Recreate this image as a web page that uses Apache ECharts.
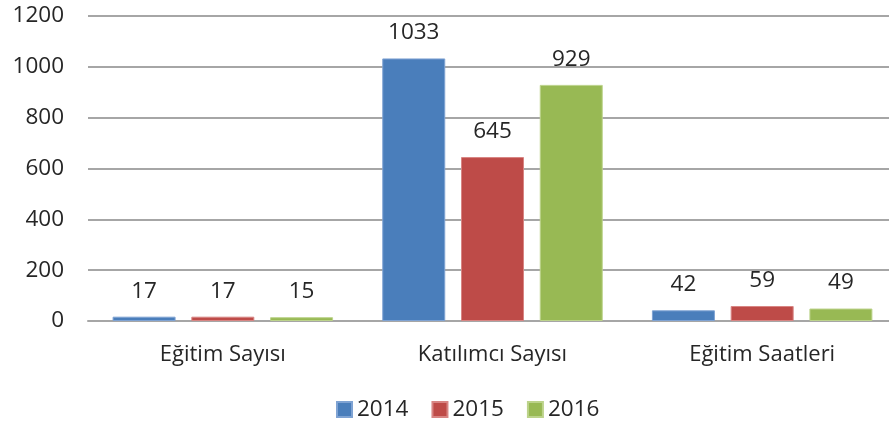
<!DOCTYPE html>
<html>
<head>
<meta charset="utf-8">
<script src="https://cdn.jsdelivr.net/npm/echarts@6/dist/echarts.min.js"></script>
<style>
  html, body { margin: 0; padding: 0; background: #fff; }
  #chart { width: 889px; height: 428px; }
</style>
</head>
<body>
<div id="chart"></div>
<script>
// Training statistics per year
const categories = ['Eğitim Sayısı', 'Katılımcı Sayısı', 'Eğitim Saatleri'];
const years = ['2014', '2015', '2016'];
const values2014 = [17, 1033, 42];
const values2015 = [17, 645, 59];
const values2016 = [15, 929, 49];
const yTicks = { min: 0, max: 1200, interval: 200 };

const colors = ['#4A7EBB', '#BE4B48', '#98B954'];
const borders = ['#7FA3D3', '#D88583', '#BCD38B'];
const font = 'Open Sans, Calibri, sans-serif';
const textColor = '#262626';

const seriesData = [values2014, values2015, values2016];

const chart = echarts.init(document.getElementById('chart'), null, { renderer: 'canvas' });
chart.setOption({
  animation: false,
  backgroundColor: '#ffffff',
  // the plot runs a little past the right edge of the canvas
  grid: {
    left: 88, width: 809, top: 16, bottom: 107,
    containLabel: false, outerBoundsMode: 'none'
  },
  legend: {
    data: years,
    bottom: 2,
    left: 331,
    itemWidth: 15,
    itemHeight: 15,
    itemGap: 23,
    icon: 'rect',
    textStyle: { fontFamily: font, fontSize: 22.5, color: textColor }
  },
  xAxis: {
    type: 'category',
    data: categories,
    axisLine: { show: true, lineStyle: { color: '#A6A6A6', width: 2 } },
    axisTick: { show: false },
    axisLabel: { fontFamily: font, fontSize: 22, color: textColor, margin: 23 }
  },
  yAxis: {
    type: 'value',
    min: yTicks.min,
    max: yTicks.max,
    interval: yTicks.interval,
    axisLine: { show: false },
    axisTick: { show: false },
    splitLine: { lineStyle: { color: '#A6A6A6', width: 2 } },
    axisLabel: {
      fontFamily: font, fontSize: 22.5, color: textColor, margin: 24,
      formatter: v => String(v)
    }
  },
  series: years.map((y, i) => ({
    name: y,
    type: 'bar',
    data: seriesData[i],
    barWidth: 63,
    barGap: '25%',
    itemStyle: { color: colors[i], borderColor: borders[i], borderWidth: 1 },
    label: {
      show: true,
      position: 'top',
      distance: 14,
      fontFamily: font,
      fontSize: 22.5,
      color: textColor
    }
  }))
});
</script>
</body>
</html>
